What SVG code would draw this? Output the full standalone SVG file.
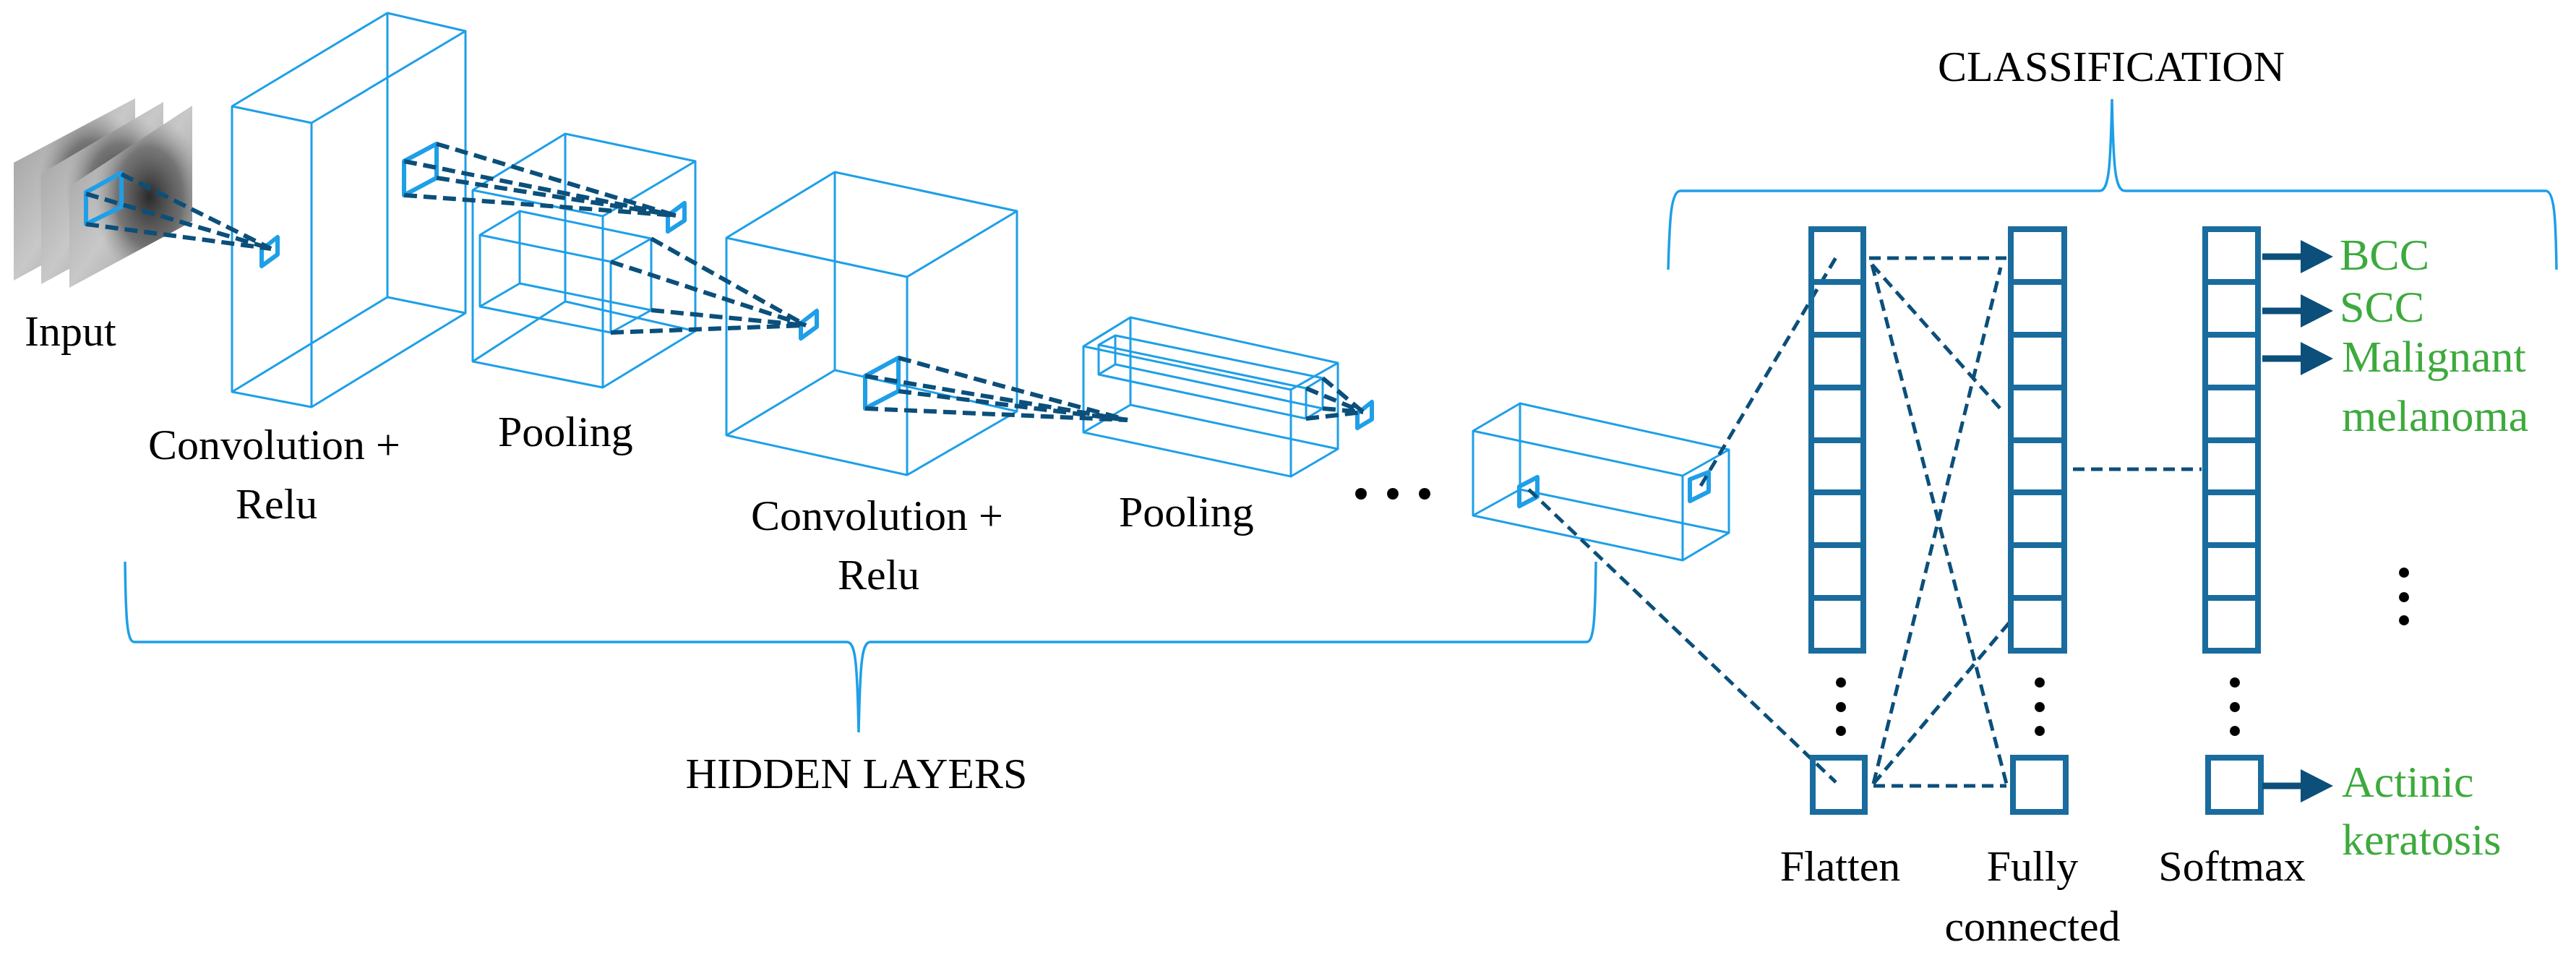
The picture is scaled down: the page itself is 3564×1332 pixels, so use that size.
<svg xmlns="http://www.w3.org/2000/svg" width="3564" height="1332" viewBox="0 0 3564 1332">
<style>
.box{fill:none;stroke:#1E9FE8;stroke-width:3;stroke-linejoin:round}
.flt{fill:none;stroke:#1E9FE8;stroke-width:6;stroke-linejoin:round}
.dl{fill:none;stroke:#0B4F7A;stroke-width:6;stroke-dasharray:18 9}
.dc{fill:none;stroke:#0B4F7A;stroke-width:5;stroke-dasharray:16 9}
.cell{fill:none;stroke:#1A6C9E;stroke-width:8}
.br{fill:none;stroke:#1E9FE8;stroke-width:3.5}
.t{font-family:'Liberation Serif','DejaVu Serif',serif;font-size:60px;fill:#000}
.g{font-family:'Liberation Serif','DejaVu Serif',serif;font-size:62px;fill:#3DAA3D}
.arr{stroke:#0B4F7A;stroke-width:9}
.ah{fill:#0B4F7A}
</style>
<defs>
<linearGradient id="gr" x1="0" y1="0" x2="1" y2="1">
<stop offset="0" stop-color="#9a9a9a"/><stop offset="0.5" stop-color="#c8c8c8"/><stop offset="1" stop-color="#8a8a8a"/>
</linearGradient>
<radialGradient id="spot" cx="0.65" cy="0.5" r="0.45">
<stop offset="0" stop-color="#222" stop-opacity="0.95"/><stop offset="0.6" stop-color="#444" stop-opacity="0.6"/><stop offset="1" stop-color="#888" stop-opacity="0"/>
</radialGradient>
</defs>

<g id="input">
<polygon points="19,225 187,136 187,296 19,388" fill="url(#gr)"/>
<polygon points="19,225 187,136 187,296 19,388" fill="url(#spot)"/>
<polygon points="57,240 226,141 226,301 57,393" fill="url(#gr)"/>
<polygon points="57,240 226,141 226,301 57,393" fill="url(#spot)"/>
<polygon points="96,258 266,146 266,306 96,398" fill="url(#gr)"/>
<polygon points="96,258 266,146 266,306 96,398" fill="url(#spot)"/>
<path class="flt" d="M119,266 L168,239 L168,286 L119,310 Z"/>
<text class="t" x="34" y="478" font-family="Liberation Serif, serif">Input</text>
</g>

<g id="conv1">
<path class="box" d="M321,147 L431,170 L431,563 L321,542 Z M536,18 L644,43 L644,433 L536,411 Z M321,147 L536,18 M431,170 L644,43 M431,563 L644,433 M321,542 L536,411"/>
<path class="flt" d="M362,345 L384,328 L384,352 L362,368 Z"/>
<path class="flt" d="M559,223 L559,270 L604,246 L604,199 Z M559,223 L604,199"/>
<text class="t" x="205" y="635">Convolution +</text>
<text class="t" x="326" y="717">Relu</text>
</g>

<g id="pool1">
<path class="box" d="M654,263 L834,299 L834,536 L654,500 Z M782,185 L962,223 L962,458 L782,417 Z M654,263 L782,185 M834,299 L962,223 M834,536 L962,458 M654,500 L782,417"/>
<path class="box" d="M664,325 L845,362 L845,460 L664,424 Z M719,292 L901,330 L901,429 L719,392 Z M664,325 L719,292 M845,362 L901,330 M845,460 L901,429 M664,424 L719,392"/>
<path class="flt" d="M924,298 L947,281 L947,305 L924,320 Z"/>
<text class="t" x="689" y="617">Pooling</text>
</g>

<g id="conv2">
<path class="box" d="M1005,329 L1255,383 L1255,657 L1005,602 Z M1155,238 L1407,292 L1407,569 L1155,512 Z M1005,329 L1155,238 M1255,383 L1407,292 M1255,657 L1407,569 M1005,602 L1155,512"/>
<path class="flt" d="M1108,447 L1130,430 L1130,452 L1108,468 Z"/>
<path class="flt" d="M1197,520 L1197,565 L1243,541 L1243,495 Z M1197,520 L1243,495"/>
<text class="t" x="1039" y="733">Convolution +</text>
<text class="t" x="1159" y="815">Relu</text>
</g>

<g id="pool2">
<path class="box" d="M1499,479 L1786,539 L1786,659 L1499,598 Z M1564,439 L1851,502 L1851,621 L1564,560 Z M1499,479 L1564,439 M1786,539 L1851,502 M1786,659 L1851,621 M1499,598 L1564,560"/>
<path class="box" d="M1520,477 L1807,537 L1807,579 L1520,518 Z M1543,464 L1830,523 L1830,565 L1543,504 Z M1520,477 L1543,464 M1807,537 L1830,523 M1807,579 L1830,565 M1520,518 L1543,504"/>
<path class="flt" d="M1878,572 L1898,556 L1898,580 L1878,592 Z"/>
<text class="t" x="1548" y="728">Pooling</text>
</g>

<g id="dots">
<circle cx="1883" cy="683" r="8"/><circle cx="1927" cy="683" r="8"/><circle cx="1971" cy="683" r="8"/>
</g>

<g id="lastbox">
<path class="box" d="M2038,596 L2328,658 L2328,775 L2038,713 Z M2103,558 L2392,622 L2392,737 L2103,677 Z M2038,596 L2103,558 M2328,658 L2392,622 M2328,775 L2392,737 M2038,713 L2103,677"/>
<path class="flt" d="M2102,673 L2127,660 L2127,687 L2102,700 Z"/>
<path class="flt" d="M2338,663 L2364,653 L2364,680 L2338,693 Z"/>
</g>

<g id="connectors">
<path class="dl" d="M119,268 L375,344 M168,241 L375,344 M119,310 L375,344"/>
<path class="dl" d="M604,199 L935,298 M559,223 L935,298 M604,246 L935,298 M559,270 L935,298"/>
<path class="dl" d="M901,330 L1115,450 M845,362 L1115,450 M901,429 L1115,450 M845,460 L1115,450"/>
<path class="dl" d="M1243,495 L1560,581 M1197,520 L1560,581 M1243,541 L1560,581 M1197,565 L1560,581"/>
<path class="dl" d="M1830,523 L1886,570 M1807,537 L1886,570 M1807,579 L1886,570 M1830,565 L1886,570"/>
<path class="dc" d="M2353,672 L2542,353 M2115,677 L2540,1082"/>
<path class="dc" d="M2586,357 L2776,357 M2590,366 L2770,568 M2590,366 L2776,1084 M2592,1084 L2768,370 M2592,1084 L2780,861 M2592,1087 L2776,1087 M2868,649 L3046,649"/>
</g>

<g id="flatten">
<rect class="cell" x="2506" y="317" width="72" height="583"/>
<path class="cell" d="M2506,390 H2578 M2506,463 H2578 M2506,536 H2578 M2506,609 H2578 M2506,681 H2578 M2506,754 H2578 M2506,827 H2578"/>
<circle cx="2547" cy="944" r="7"/><circle cx="2547" cy="978" r="7"/><circle cx="2547" cy="1011" r="7"/>
<rect class="cell" x="2508" y="1048" width="72" height="75"/>
<text class="t" x="2546" y="1218" text-anchor="middle">Flatten</text>
</g>

<g id="fc">
<rect class="cell" x="2782" y="317" width="74" height="583"/>
<path class="cell" d="M2782,390 H2856 M2782,463 H2856 M2782,536 H2856 M2782,609 H2856 M2782,681 H2856 M2782,754 H2856 M2782,827 H2856"/>
<circle cx="2822" cy="944" r="7"/><circle cx="2822" cy="978" r="7"/><circle cx="2822" cy="1011" r="7"/>
<rect class="cell" x="2785" y="1048" width="73" height="75"/>
<text class="t" x="2812" y="1218" text-anchor="middle">Fully</text>
<text class="t" x="2812" y="1301" text-anchor="middle">connected</text>
</g>

<g id="softmax">
<rect class="cell" x="3051" y="317" width="73" height="583"/>
<path class="cell" d="M3051,390 H3124 M3051,463 H3124 M3051,536 H3124 M3051,609 H3124 M3051,681 H3124 M3051,754 H3124 M3051,827 H3124"/>
<circle cx="3092" cy="944" r="7"/><circle cx="3092" cy="978" r="7"/><circle cx="3092" cy="1011" r="7"/>
<rect class="cell" x="3055" y="1048" width="73" height="75"/>
<text class="t" x="3088" y="1218" text-anchor="middle">Softmax</text>
</g>

<g id="outputs">
<line class="arr" x1="3130" y1="355" x2="3185" y2="355"/><polygon class="ah" points="3183,332 3228,355 3183,378"/>
<line class="arr" x1="3130" y1="430" x2="3185" y2="430"/><polygon class="ah" points="3183,407 3228,430 3183,453"/>
<line class="arr" x1="3130" y1="496" x2="3185" y2="496"/><polygon class="ah" points="3183,473 3228,496 3183,519"/>
<line class="arr" x1="3130" y1="1087" x2="3185" y2="1087"/><polygon class="ah" points="3183,1064 3228,1087 3183,1110"/>
<text class="g" x="3237" y="373">BCC</text>
<text class="g" x="3237" y="445">SCC</text>
<text class="g" x="3240" y="514">Malignant</text>
<text class="g" x="3240" y="596">melanoma</text>
<text class="g" x="3240" y="1102">Actinic</text>
<text class="g" x="3240" y="1182">keratosis</text>
<circle cx="3326" cy="792" r="7"/><circle cx="3326" cy="826" r="7"/><circle cx="3326" cy="858" r="7"/>
</g>

<g id="braces">
<path class="br" d="M2308,373 C2310,300 2312,264 2325,264 L2905,264 C2918,264 2920,230 2922,137 C2924,230 2926,264 2940,264 L3522,264 C3534,264 3536,300 3537,373"/>
<text class="t" x="2921" y="112" text-anchor="middle" font-size="56">CLASSIFICATION</text>
<path class="br" d="M173,777 C174,860 176,888 186,888 L1172,888 C1184,888 1186,920 1188,1013 C1190,920 1192,888 1204,888 L2195,888 C2205,888 2207,860 2208,777"/>
<text class="t" x="1185" y="1090" text-anchor="middle" font-size="56">HIDDEN LAYERS</text>
</g>
</svg>
